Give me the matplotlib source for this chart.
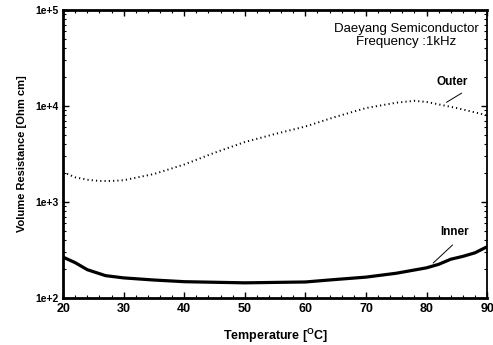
import numpy as np
import matplotlib
matplotlib.use("Agg")
import matplotlib.pyplot as plt
from matplotlib.ticker import LogLocator, MultipleLocator, FixedLocator, FixedFormatter

plt.rcParams['font.family'] = ['Liberation Sans', 'DejaVu Sans']
plt.rcParams['font.weight'] = 'bold'

# 外侧曲线 (Outer)
outer_t = [20, 22, 24, 26, 28, 30, 35, 40, 45, 50, 55, 60, 65, 70, 75, 78, 80, 85, 90]
outer_r = [2040, 1800, 1700, 1650, 1650, 1680, 1950, 2450, 3250, 4200, 5100, 6100, 7700, 9500, 10800, 11300, 11000, 9500, 7980]

# 内侧曲线 (Inner)
inner_t = [20, 22, 24, 27, 30, 35, 40, 50, 60, 65, 70, 75, 80, 82, 84, 86, 88, 90]
inner_r = [265, 232, 196, 170, 161, 153, 147, 143, 146, 155, 164, 180, 205, 223, 252, 270, 294, 340]

xticks = [20, 30, 40, 50, 60, 70, 80, 90]
yticks = [1e2, 1e3, 1e4, 1e5]
ytick_labels = ['1e+2', '1e+3', '1e+4', '1e+5']

fig = plt.figure(figsize=(4.93, 3.45), dpi=100)
ax = fig.add_axes([0.128, 0.137, 0.860, 0.834])

ax.plot(outer_t, outer_r, color='black', linestyle=(0, (0.6, 1.6)), linewidth=1.4)
ax.plot(inner_t, inner_r, color='black', linestyle='-', linewidth=2.3)

ax.set_yscale('log')
ax.set_xlim(20, 90)
ax.set_ylim(1e2, 1e5)

ax.yaxis.set_major_locator(FixedLocator(yticks))
ax.yaxis.set_major_formatter(FixedFormatter(ytick_labels))
ax.yaxis.set_minor_locator(LogLocator(base=10, subs=np.arange(2, 10)))
ax.xaxis.set_major_locator(FixedLocator(xticks))
ax.xaxis.set_minor_locator(MultipleLocator(2))

ax.tick_params(which='both', direction='in', top=True, right=True, labelsize=9)
ax.tick_params(which='major', length=4, width=1)
ax.tick_params(which='minor', length=2, width=0.8)
ax.tick_params(axis='y', labelsize=7.5)

for side in ['left', 'bottom', 'top']:
    ax.spines[side].set_linewidth(2)
ax.spines['right'].set_linewidth(1.3)

ax.set_xlabel('Temperature [$\\mathregular{^OC}$]', fontsize=9, fontweight='bold', labelpad=9)
ax.set_ylabel('Volume Resistance [Ohm cm]', fontsize=8, fontweight='bold', labelpad=6)

ax.text(0.81, 0.955, 'Daeyang Semiconductor\nFrequency :1kHz', transform=ax.transAxes,
        ha='center', va='top', fontsize=9.5, fontweight='medium', linespacing=1.1)

ax.annotate('Outer', xy=(83.3, 10900), xytext=(81.6, 17800), fontsize=8.5, fontweight='bold',
            ha='left', va='center')
ax.annotate('', xy=(83.3, 10900), xytext=(85.8, 13600),
            arrowprops=dict(arrowstyle='-', color='black', lw=0.7, shrinkA=0, shrinkB=0))
ax.annotate('Inner', xy=(81.1, 230), xytext=(82.3, 480), fontsize=8.5, fontweight='bold',
            ha='left', va='center')
ax.annotate('', xy=(81.1, 230), xytext=(84.3, 355),
            arrowprops=dict(arrowstyle='-', color='black', lw=0.7, shrinkA=0, shrinkB=0))

fig.savefig('out.png', dpi=100)
